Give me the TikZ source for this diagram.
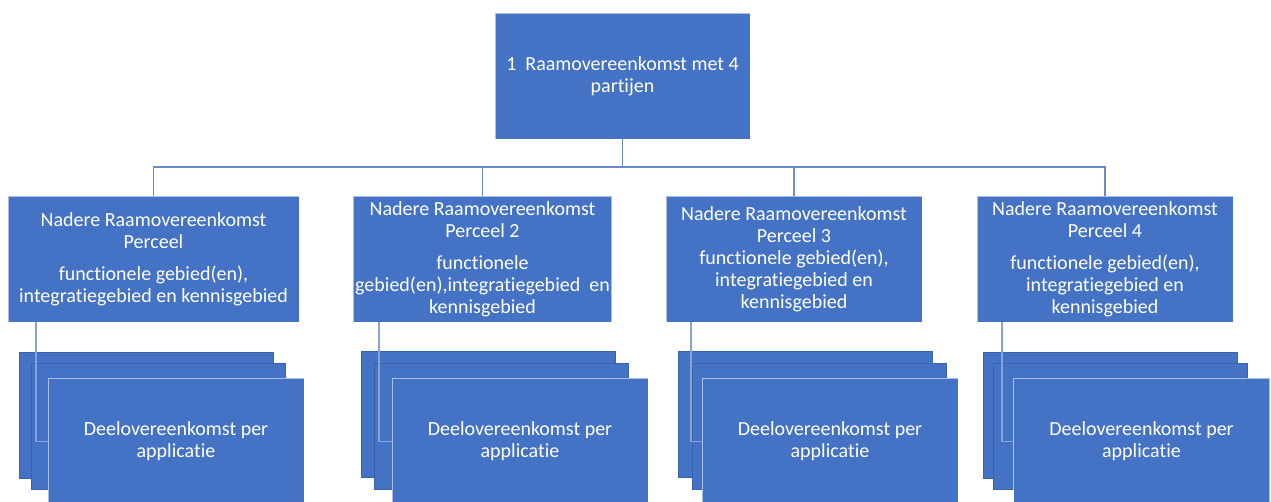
\documentclass[tikz,border=0pt]{standalone}
\usepackage{fontspec}
\setmainfont[Ligatures=NoCommon]{Carlito}
\definecolor{boxblue}{HTML}{4472C4}
\definecolor{edgeblue}{HTML}{3A63AC}
\definecolor{linkblue}{HTML}{6A8BCB}
\begin{document}
\begin{tikzpicture}[x=1pt,y=-1pt,
  box/.style={rectangle, fill=boxblue, draw=white, draw opacity=0.55, line width=0.8pt,
    text=white, align=center, inner sep=2pt,
    font=\fontsize{20}{22}\selectfont},
  backbox/.style={rectangle, fill=boxblue, draw=edgeblue, line width=0.9pt,
    minimum width=254pt, minimum height=126pt, inner sep=0pt},
  frontbox/.style={box, minimum width=256pt, minimum height=127pt},
  link/.style={draw=linkblue, line width=1.6pt},
  sublink/.style={draw=linkblue!80!white, line width=1.2pt}]
\clip (0,0) rectangle (1271,501);

% top node
\node[box, minimum width=255pt, minimum height=126pt] (top) at (622.5,76)
  {1\ \ Raamovereenkomst met 4\\partijen};

% level 2
\node[box, minimum width=291pt, minimum height=126pt] (p1) at (153.5,259)
  {Nadere Raamovereenkomst\\Perceel\\[10pt]functionele gebied(en),\\integratiegebied en kennisgebied};
\node[box, minimum width=255pt, minimum height=126pt] (p2) at (482.5,259)
  {Nadere Raamovereenkomst\\Perceel 2\\[10pt]functionele\\gebied(en),integratiegebied\ \ en\\kennisgebied};
\node[box, minimum width=256pt, minimum height=126pt] (p3) at (794,259)
  {Nadere Raamovereenkomst\\Perceel 3\\functionele gebied(en),\\integratiegebied en\\kennisgebied};
\node[box, minimum width=256pt, minimum height=126pt] (p4) at (1105,259)
  {Nadere Raamovereenkomst\\Perceel 4\\[10pt]functionele gebied(en),\\integratiegebied en\\kennisgebied};

% connectors top -> level 2
\coordinate (bus) at (0,167);
\foreach \p in {p1,p2,p3,p4}{
  \draw[link] (top.south) |- (bus -| \p.north) -- (\p.north);
}

% stacks: guide x of the sub connectors and front-box west points
\coordinate (c1) at (36,0);
\coordinate (c2) at (379,0);
\coordinate (c3) at (691,0);
\coordinate (c4) at (1002,0);
\coordinate (w1) at (48,441.5);
\coordinate (w2) at (392,441.5);
\coordinate (w3) at (702,441.5);
\coordinate (w4) at (1013,441.5);

\node[backbox] (b1) at (146,415) {};
\node[backbox] (m1) at (158.5,426.5) {};
\draw[sublink] (p1.south -| c1) |- (w1);
\node[frontbox] (f1) at (176,441.5) {Deelovereenkomst per\\applicatie};

\node[backbox] (b2) at (488.5,414.5) {};
\node[backbox] (m2) at (501,426.5) {};
\draw[sublink] (p2.south -| c2) |- (w2);
\node[frontbox] (f2) at (520,441.5) {Deelovereenkomst per\\applicatie};

\node[backbox] (b3) at (805,414.5) {};
\node[backbox] (m3) at (819,426.5) {};
\draw[sublink] (p3.south -| c3) |- (w3);
\node[frontbox] (f3) at (830,441.5) {Deelovereenkomst per\\applicatie};

\node[backbox] (b4) at (1110,415.5) {};
\node[backbox] (m4) at (1120,426) {};
\draw[sublink] (p4.south -| c4) |- (w4);
\node[frontbox] (f4) at (1141.5,441.5) {Deelovereenkomst per\\applicatie};

\end{tikzpicture}
\end{document}
